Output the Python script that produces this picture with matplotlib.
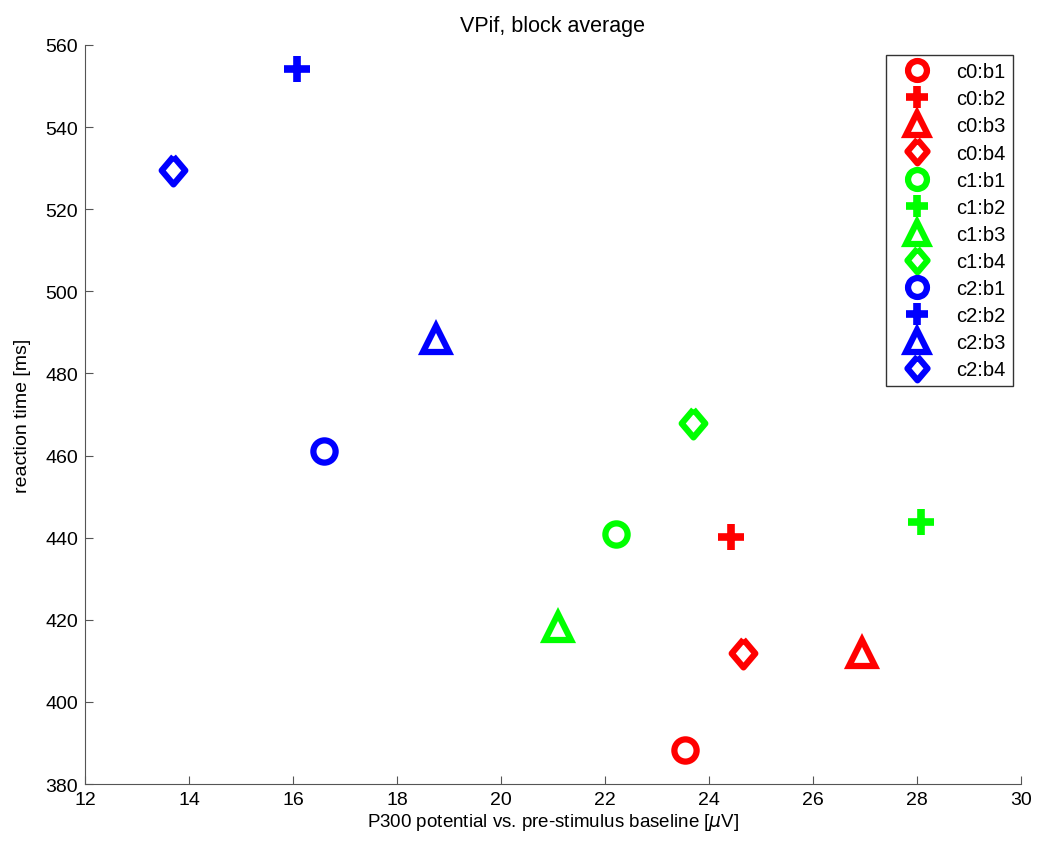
import matplotlib
matplotlib.use('Agg')
import matplotlib.pyplot as plt

plt.rcParams['font.family'] = ['Liberation Sans', 'DejaVu Sans']

# data
labels = ['c0:b1', 'c0:b2', 'c0:b3', 'c0:b4',
          'c1:b1', 'c1:b2', 'c1:b3', 'c1:b4',
          'c2:b1', 'c2:b2', 'c2:b3', 'c2:b4']
p300 = [23.54, 24.42, 26.94, 24.65,
        22.21, 28.08, 21.10, 23.69,
        16.60, 16.08, 18.75, 13.69]
rt = [388.3, 440.2, 411.9, 411.9,
      440.9, 443.8, 418.3, 467.9,
      461.1, 554.2, 488.4, 529.6]

colors = ['#ff0000', '#00ff00', '#0000ff']
diamond = [(0, 1), (0.85, 0), (0, -1), (-0.85, 0), (0, 1)]
markers = ['o', '+', '^', diamond]
msizes = [16, 19, 19, 20]
mews = [4.5, 5.5, 4.5, 4.5]

fig = plt.figure(figsize=(10.38, 8.45), dpi=100)
ax = fig.add_axes([0.0819, 0.071, 0.9017, 0.8746])

for i in range(len(labels)):
    c = colors[i // 4]
    m = i % 4
    ax.plot(p300[i], rt[i], linestyle='none', marker=markers[m],
            markersize=msizes[m], markeredgewidth=mews[m],
            markeredgecolor=c, markerfacecolor='none', label=labels[i])

ax.set_xlim(12, 30)
ax.set_ylim(380, 560)
ax.set_xticks(range(12, 31, 2))
ax.set_yticks(range(380, 561, 20))
ax.spines['top'].set_visible(False)
ax.spines['right'].set_visible(False)
for s in ['left', 'bottom']:
    ax.spines[s].set_color('#555555')
ax.tick_params(direction='in', length=6, color='#555555', labelsize=14, pad=5)

ax.set_title('VPif, block average', fontsize=15.5, pad=10)
ax.set_xlabel('P300 potential vs. pre-stimulus baseline [$\\mu$V]', fontsize=13.5,
              labelpad=2)
ax.set_ylabel('reaction time [ms]', fontsize=14, labelpad=10)

leg = ax.legend(loc='upper right', bbox_to_anchor=(0.991, 0.986), fontsize=14.5,
                markerscale=0.85, handlelength=2.4, labelspacing=0.4,
                borderpad=0.35, handletextpad=0.75, borderaxespad=0,
                frameon=True, fancybox=False, numpoints=1)
leg.get_frame().set_edgecolor('black')
leg.get_frame().set_linewidth(1.0)

plt.savefig('out.png', dpi=100)
